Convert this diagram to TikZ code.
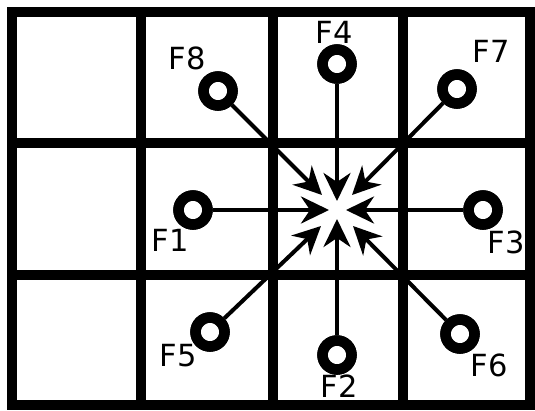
\documentclass[tikz,border=0pt]{standalone}
\usepackage{fontspec}
\setmainfont{DejaVu Sans}
\usetikzlibrary{arrows.meta}
\begin{document}
\begin{tikzpicture}[x=1pt,y=-1pt,
  gridline/.style={line width=10.5pt},
  ring/.style={circle,draw,fill=white,line width=10.5pt,minimum size=29pt,inner sep=0pt},
  flow/.style={line width=4pt,-{Stealth[length=28pt,width=27pt,inset=9pt]}},
  lbl/.style={inner sep=0pt,font=\fontsize{30.5pt}{36pt}\selectfont}]
\useasboundingbox (0,0) rectangle (535,410);
% grid
\draw[gridline] (12,12) rectangle (530,405);
\draw[gridline] (141,12) -- (141,405);
\draw[gridline] (273,12) -- (273,405);
\draw[gridline] (403,12) -- (403,405);
\draw[gridline] (12,143) -- (530,143);
\draw[gridline] (12,275) -- (530,275);
% rings
\node[ring] (c8) at (218,91) {};
\node[ring] (c4) at (337,64) {};
\node[ring] (c7) at (457,89) {};
\node[ring] (c1) at (193,210) {};
\node[ring] (c3) at (483,210) {};
\node[ring] (c5) at (210,332) {};
\node[ring] (c2) at (337,355) {};
\node[ring] (c6) at (460,334) {};
% tips
\coordinate (t8) at (322,195);
\coordinate (t4) at (337,201);
\coordinate (t7) at (352,195);
\coordinate (t1) at (329,210);
\coordinate (t3) at (346,210);
\coordinate (t5) at (321,226);
\coordinate (t2) at (337,219);
\coordinate (t6) at (353,226);
% arrows
\draw[flow] (c8) -- (t8);
\draw[flow] (c4) -- (t4);
\draw[flow] (c7) -- (t7);
\draw[flow] (c1) -- (t1);
\draw[flow] (c3) -- (t3);
\draw[flow] (c5) -- (t5);
\draw[flow] (c2) -- (t2);
\draw[flow] (c6) -- (t6);
% redraw rings on top
\foreach \n in {c8,c4,c7,c1,c3,c5,c2,c6}{\draw[line width=10.5pt] (\n.center) circle (14.5pt);}
% labels
\node[lbl] (l8) at (187,58) {F8};
\node[lbl] (l4) at (334,32) {F4};
\node[lbl] (l7) at (491,51) {F7};
\node[lbl] (l1) at (170,240) {F1};
\node[lbl] (l3) at (506,242) {F3};
\node[lbl] (l5) at (178,356) {F5};
\node[lbl] (l6) at (489,365) {F6};
\node[lbl] (l2) at (339,386) {F2};
\end{tikzpicture}
\end{document}
